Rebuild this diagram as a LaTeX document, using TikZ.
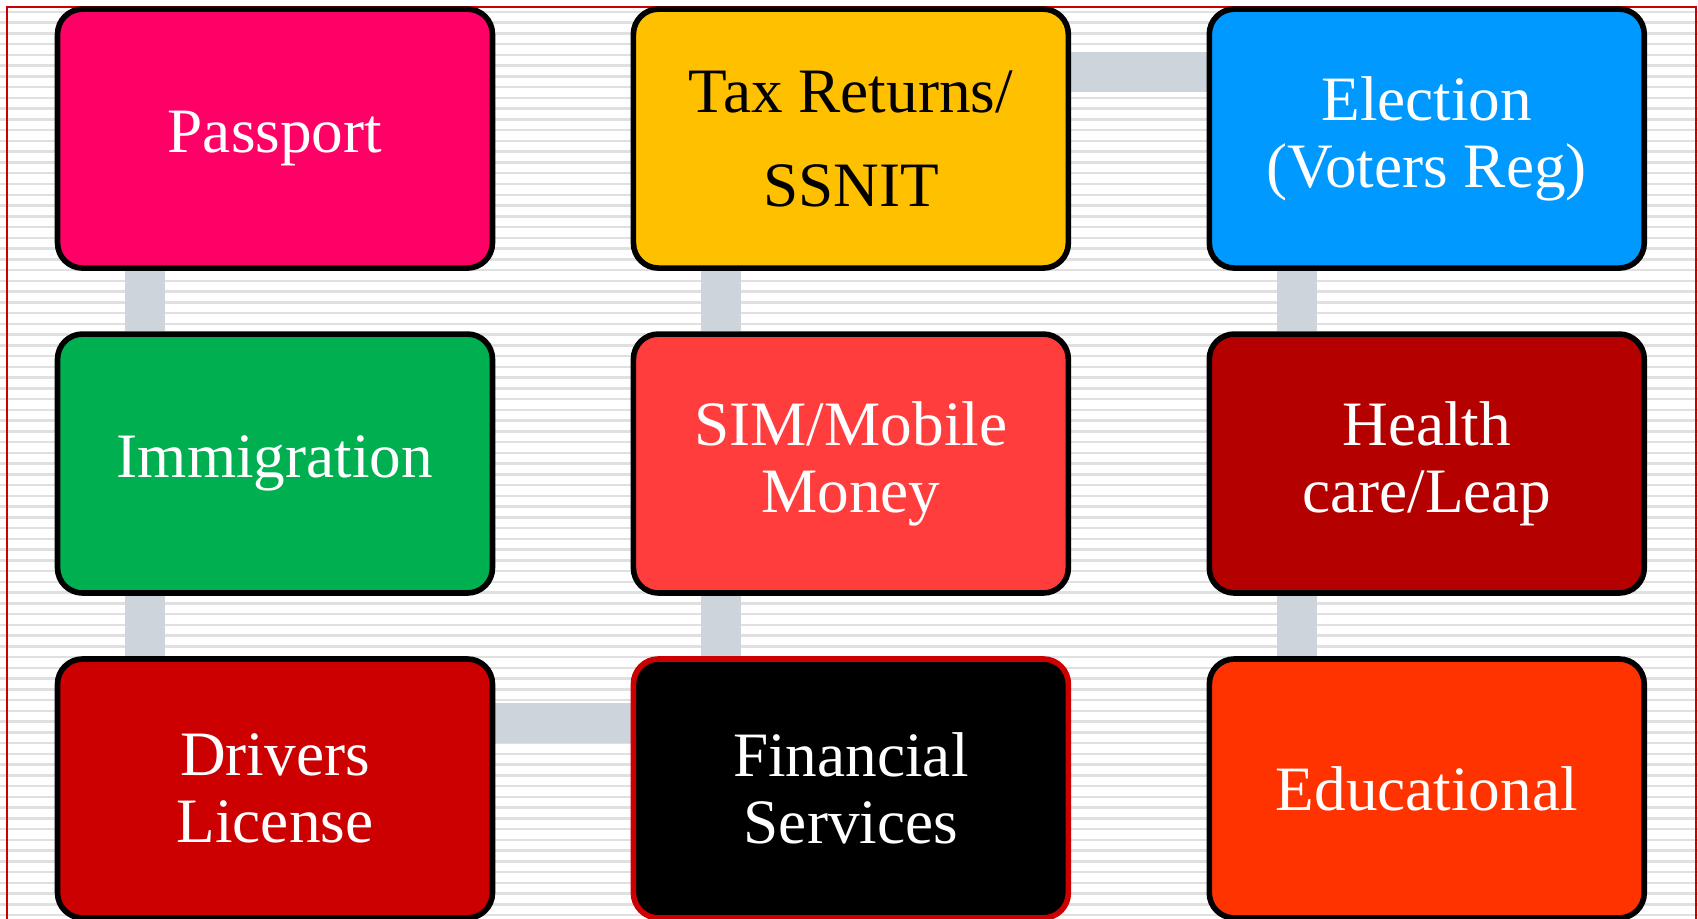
\documentclass[tikz,border=0pt]{standalone}
\usepackage{fontspec}
\setmainfont{Liberation Serif}
\usetikzlibrary{positioning,backgrounds}
\definecolor{passportPink}{HTML}{FF0066}
\definecolor{taxYellow}{HTML}{FFC000}
\definecolor{electionBlue}{HTML}{0099FF}
\definecolor{immigrationGreen}{HTML}{00B050}
\definecolor{simRed}{HTML}{FF3D3D}
\definecolor{healthRed}{HTML}{B50000}
\definecolor{driversRed}{HTML}{CC0000}
\definecolor{eduOrange}{HTML}{FF3300}
\definecolor{linkGray}{HTML}{CDD4DC}
\definecolor{stripeGray}{HTML}{E0E0E0}
\newcommand{\myFrameColor}{driversRed}

\begin{document}
\begin{tikzpicture}[x=0.02cm,y=-0.02cm,node distance=11.52cm,
	Box/.style={rectangle,rounded corners=0.5cm,draw=black,line width=3.2pt,minimum width=8.7cm,minimum height=5.18cm,align=center,text=white,font=\fontsize{36}{38}\selectfont},
	Link/.style={draw=linkGray,line width=0.8cm},
	Stripe/.style={draw=stripeGray,line width=0.05cm},
]
	\useasboundingbox (0,0) rectangle (1698,919);

	\node[Box, fill=passportPink] (Passport) at (275,138.6) {Passport};
	\node[Box, fill=taxYellow, text=black, font=\fontsize{36}{53.5}\selectfont] (Tax)[right of= Passport]{Tax Returns/\\SSNIT};
	\node[Box, fill=electionBlue] (Election)[right of= Tax]{Election\\(Voters Reg)};
	\node[Box, fill=immigrationGreen] (Immigration)[below of= Passport, node distance=6.5cm]{Immigration};
	\node[Box, fill=simRed] (Sim)[right of= Immigration]{SIM/Mobile\\Money};
	\node[Box, fill=healthRed] (Health)[right of= Sim]{Health\\care/Leap};
	\node[Box, fill=driversRed] (Drivers)[below of= Immigration, node distance=6.5cm]{Drivers\\License};
	\node[Box, fill=black, draw=driversRed] (Financial)[right of= Drivers]{Financial\\Services};
	\node[Box, fill=eduOrange] (Educational)[right of= Financial]{Educational};

	\begin{scope}[on background layer]
	\foreach \y in {12,22.75,...,919}
		\draw[Stripe] (0,\y) -- (1698,\y);
	\draw[Link] ([xshift=-2.6cm]Passport.south) -- ([xshift=-2.6cm]Immigration.north);
	\draw[Link] ([xshift=-2.6cm]Immigration.south) -- ([xshift=-2.6cm]Drivers.north);
	\draw[Link] ([xshift=-2.6cm]Tax.south) -- ([xshift=-2.6cm]Sim.north);
	\draw[Link] ([xshift=-2.6cm]Sim.south) -- ([xshift=-2.6cm]Financial.north);
	\draw[Link] ([xshift=-2.6cm]Election.south) -- ([xshift=-2.6cm]Health.north);
	\draw[Link] ([xshift=-2.6cm]Health.south) -- ([xshift=-2.6cm]Educational.north);
	\draw[Link] ([yshift=1.34cm]Tax.east) -- ([yshift=1.34cm]Election.west);
	\draw[Link] ([yshift=1.3cm]Drivers.east) -- ([yshift=1.3cm]Financial.west);
	\fill[white] (0,0) rectangle (1698,7);
	\draw[\myFrameColor, line width=0.04cm] (7,930) -- (7,7) -- (1695.5,7) -- (1695.5,930);
	\end{scope}
\end{tikzpicture}
\end{document}
